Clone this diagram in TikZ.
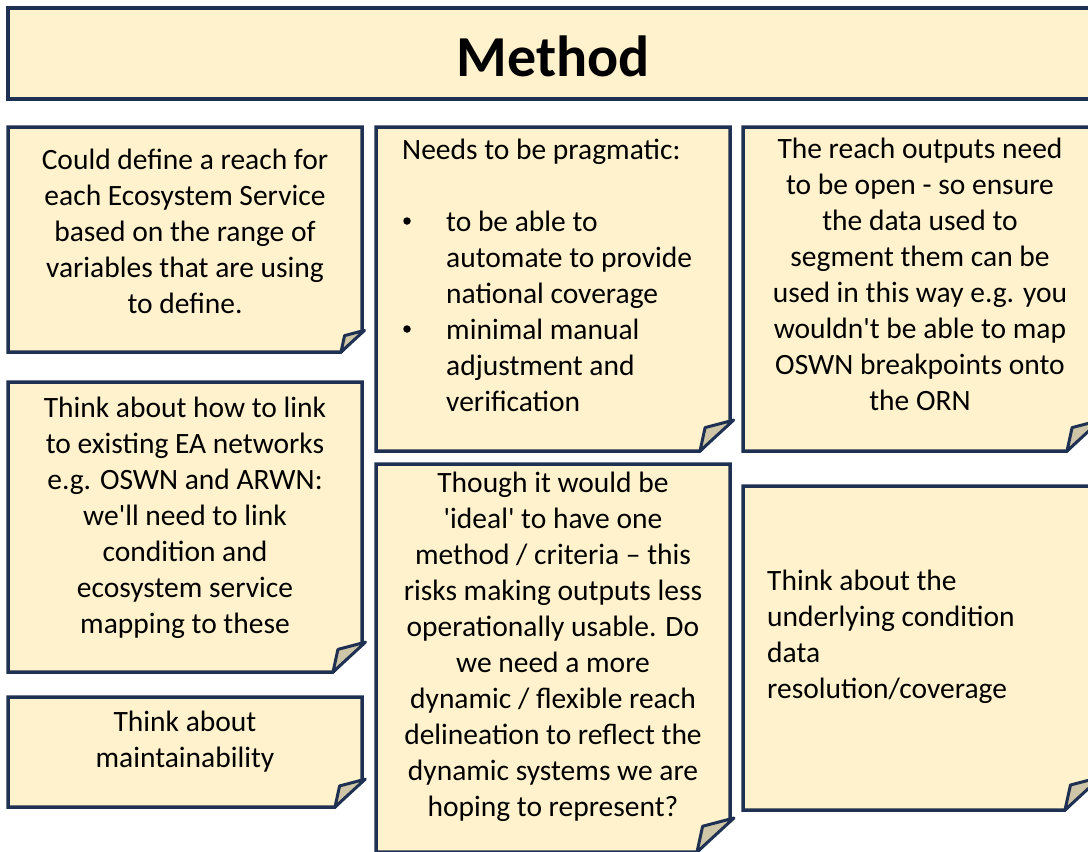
\documentclass[tikz,border=0pt]{standalone}
\usepackage{fontspec}
\setmainfont{Carlito}
\definecolor{navy}{HTML}{1F3152}
\definecolor{notefill}{HTML}{FFF2CC}
\definecolor{foldfill}{HTML}{CFC6A7}
\newcommand\aq{\textquotesingle}
% sticky note with a turned-up bottom-right corner: {left}{top}{right}{bottom}{corner size}
\newcommand\stickynote[5]{%
  \draw[notebox] (#1,#2) -- (#3,#2) -- (#3,{#4-#5}) -- ({#3-#5},#4) -- (#1,#4) -- cycle;
  \draw[foldpart] ({#3-#5},#4) -- ({#3-0.83*#5},{#4-0.78*#5}) -- ({#3+0.12*#5},{#4-1.03*#5}) -- cycle;
}
\begin{document}
\begin{tikzpicture}[x=1pt,y=-1pt,
  notebox/.style={draw=navy, fill=notefill, line width=3.5pt, line join=miter},
  foldpart/.style={draw=navy, fill=foldfill, line width=3pt, line join=round},
  txt/.style={inner sep=0pt, font=\fontsize{29.5}{36}\selectfont, align=center, anchor=north},
  ltxt/.style={txt, align=left, anchor=north west},
  bullet/.style={circle, fill=black, inner sep=0pt, minimum size=7.5pt},
  titletxt/.style={inner sep=0pt, font=\fontsize{58}{70}\selectfont\bfseries, anchor=base}]
\useasboundingbox (0,0) rectangle (1088,852);
\clip (0,0) rectangle (1088,852);

% heading bar
\draw[notebox] (8,8) rectangle (1100,99);
\node[titletxt] (title) at (553,76) {Method};

% notes
\stickynote{8}{127}{362}{352}{21}
\stickynote{376}{127}{730}{451}{30}
\stickynote{743}{127}{1097}{451}{30}
\stickynote{8}{382}{362}{672}{29}
\stickynote{8}{697}{362}{807}{27}
\stickynote{376}{464}{730}{852}{33}
\stickynote{743}{486}{1097}{810}{32}

% note texts
\node[txt] (reach) at (185,143.8) {\strut Could define a reach for\\each Ecosystem Service\\based on the range of\\variables that are using\\to define.};

\node[ltxt] (prag) at (402,133.8) {\strut Needs to be pragmatic:};
\node[bullet] (bulA) at (407,221) {};
\node[ltxt] (itemA) at (446,205.8) {\strut to be able to\\automate to provide\\national coverage};
\node[bullet] (bulB) at (407,329) {};
\node[ltxt] (itemB) at (446,313.8) {\strut minimal manual\\adjustment and\\verification};

\node[txt] (open) at (920,132.8) {\strut The reach outputs need\\to be open - so ensure\\the data used to\\segment them can be\\used in this way e.g. you\\wouldn\aq t be able to map\\OSWN breakpoints onto\\the ORN};

\node[txt] (link) at (185,391.8) {\strut Think about how to link\\to existing EA networks\\e.g. OSWN and ARWN:\\we\aq ll need to link\\condition and\\ecosystem service\\mapping to these};

\node[txt] (maint) at (185,705.8) {\strut Think about\\maintainability};

\node[txt] (ideal) at (553,466.8) {\strut Though it would be\\\aq ideal\aq{} to have one\\method / criteria – this\\risks making outputs less\\operationally usable. Do\\we need a more\\dynamic / flexible reach\\delineation to reflect the\\dynamic systems we are\\hoping to represent?};

\node[ltxt] (cond) at (767,564.8) {\strut Think about the\\underlying condition\\data\\resolution/coverage};
\end{tikzpicture}
\end{document}
